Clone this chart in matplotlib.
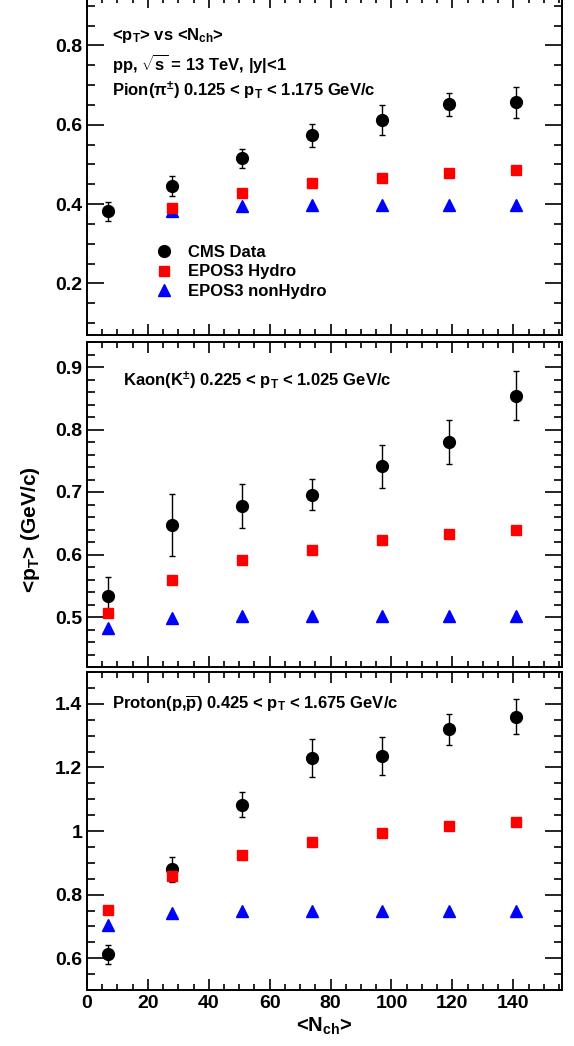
import matplotlib
matplotlib.use('Agg')
import matplotlib.pyplot as plt
from matplotlib.ticker import MultipleLocator

plt.rcParams['font.family'] = ['Liberation Sans', 'DejaVu Sans']
plt.rcParams['font.weight'] = 'bold'
plt.rcParams['mathtext.fontset'] = 'custom'
plt.rcParams['mathtext.rm'] = 'Liberation Sans:bold'
plt.rcParams['mathtext.it'] = 'Liberation Sans:italic:bold'
plt.rcParams['mathtext.bf'] = 'Liberation Sans:bold'
plt.rcParams['mathtext.default'] = 'rm'

# <Nch> bins
NCH = [7, 28, 51, 74, 97, 119, 141]
NCH_MODEL_PION = [28, 51, 74, 97, 119, 141]

# pions
PION_DATA = [0.382, 0.446, 0.515, 0.574, 0.612, 0.652, 0.657]
PION_ERR = [0.024, 0.025, 0.025, 0.029, 0.039, 0.029, 0.039]
PION_HYDRO = [0.389, 0.428, 0.452, 0.466, 0.479, 0.487]
PION_NONHYDRO = [0.382, 0.396, 0.397, 0.397, 0.397, 0.398]

# kaons
KAON_DATA = [0.534, 0.647, 0.677, 0.696, 0.741, 0.780, 0.854]
KAON_ERR = [0.030, 0.049, 0.035, 0.025, 0.034, 0.035, 0.039]
KAON_HYDRO = [0.507, 0.560, 0.591, 0.608, 0.623, 0.633, 0.640]
KAON_NONHYDRO = [0.483, 0.499, 0.501, 0.502, 0.502, 0.502, 0.502]

# protons
PROTON_DATA = [0.612, 0.879, 1.083, 1.230, 1.235, 1.320, 1.359]
PROTON_ERR = [0.030, 0.039, 0.040, 0.059, 0.060, 0.049, 0.055]
PROTON_HYDRO = [0.751, 0.858, 0.926, 0.964, 0.995, 1.015, 1.028]
PROTON_NONHYDRO = [0.705, 0.742, 0.749, 0.750, 0.750, 0.750, 0.750]

W, H = 574, 1046
fig = plt.figure(figsize=(W / 100, H / 100), dpi=100)


def px_axes(x0, y0, x1, y1):
    return fig.add_axes([x0 / W, 1 - y1 / H, (x1 - x0) / W, (y1 - y0) / H])


ax_pi = px_axes(87, -3, 562, 335)
ax_k = px_axes(87, 342, 562, 667)
ax_p = px_axes(87, 672, 562, 990)


def panel(ax, xd, yd, ed, xm, hyd, nonhyd, ylim, major, minor):
    h_cms = ax.errorbar(xd, yd, yerr=ed, fmt='o', color='black', ms=8.5,
                        elinewidth=1.0, capsize=2, capthick=1.0, zorder=3)
    h_non, = ax.plot(xm, nonhyd, '^', color='#0000ff', ms=8, zorder=4)
    h_hyd, = ax.plot(xm, hyd, 's', color='#ff0000', ms=7.5, zorder=5)
    ax.set_xlim(0, 156)
    ax.set_ylim(*ylim)
    ax.xaxis.set_major_locator(MultipleLocator(20))
    ax.xaxis.set_minor_locator(MultipleLocator(5))
    ax.yaxis.set_major_locator(MultipleLocator(major))
    ax.yaxis.set_minor_locator(MultipleLocator(minor))
    ax.tick_params(which='both', direction='in', top=True, right=True, width=1.2)
    ax.tick_params(axis='y', which='major', length=12)
    ax.tick_params(axis='y', which='minor', length=6)
    ax.tick_params(axis='x', which='major', length=8)
    ax.tick_params(axis='x', which='minor', length=4)
    ax.tick_params(labelsize=14, pad=3.5)
    for s in ax.spines.values():
        s.set_linewidth(1.4)
    return h_cms, h_hyd, h_non


h = panel(ax_pi, NCH, PION_DATA, PION_ERR, NCH_MODEL_PION, PION_HYDRO, PION_NONHYDRO,
          (0.07, 0.922), 0.2, 0.05)
panel(ax_k, NCH, KAON_DATA, KAON_ERR, NCH, KAON_HYDRO, KAON_NONHYDRO,
      (0.42, 0.94), 0.1, 0.02)
panel(ax_p, NCH, PROTON_DATA, PROTON_ERR, NCH, PROTON_HYDRO, PROTON_NONHYDRO,
      (0.5, 1.5), 0.2, 0.05)

for ax in (ax_pi, ax_k):
    ax.tick_params(labelbottom=False)
ax_p.set_yticks([0.6, 0.8, 1.0, 1.2, 1.4])
ax_p.set_yticklabels(['0.6', '0.8', '1', '1.2', '1.4'])

fs = 12
tr = ax_pi.transAxes
ax_pi.text(0.052, 0.885, r'<p$_{\mathrm{T}}$> vs <N$_{\mathrm{ch}}$>', transform=tr,
           fontsize=fs, fontweight='bold', va='center')
ax_pi.text(0.052, 0.803, r'pp, $\sqrt{s}$ = 13 TeV, |y|<1', transform=tr,
           fontsize=fs, fontweight='bold', va='center')
ax_pi.text(0.052, 0.722, r'Pion($\pi^{\pm}$) 0.125 < p$_{\mathrm{T}}$ < 1.175 GeV/c',
           transform=tr, fontsize=fs, fontweight='bold', va='center')
ax_k.text(0.075, 0.88, r'Kaon(K$^{\pm}$) 0.225 < p$_{\mathrm{T}}$ < 1.025 GeV/c',
          transform=ax_k.transAxes, fontsize=fs, fontweight='bold', va='center')
ax_p.text(0.052, 0.90, r'Proton(p,$\overline{\mathrm{p}}$) 0.425 < p$_{\mathrm{T}}$ < 1.675 GeV/c',
          transform=ax_p.transAxes, fontsize=fs, fontweight='bold', va='center')

leg = ax_pi.legend([h[0][0], h[1], h[2]], ['CMS Data', 'EPOS3 Hydro', 'EPOS3 nonHydro'],
                   loc='upper left', bbox_to_anchor=(0.11, 0.31), frameon=False,
                   fontsize=fs, handletextpad=0.8, labelspacing=0.25, handlelength=1.2)

ax_p.set_xlabel(r'<N$_{\mathrm{ch}}$>', fontsize=14.5, fontweight='bold', labelpad=3)
fig.text(30 / W, 1 - 530 / H, r'<p$_{\mathrm{T}}$> (GeV/c)', rotation=90,
         fontsize=15, fontweight='bold', ha='center', va='center')

fig.savefig('out.png', dpi=100)
